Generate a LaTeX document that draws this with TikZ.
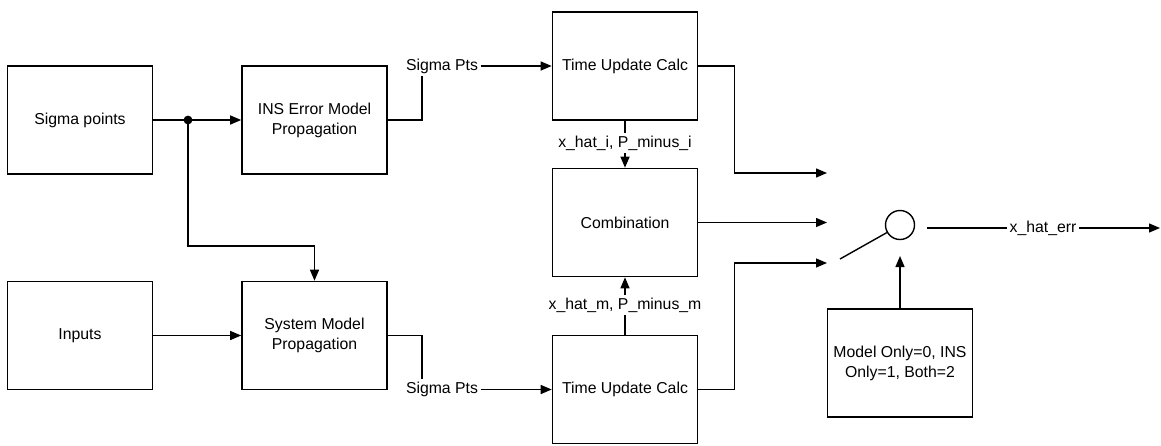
\documentclass[tikz,border=0pt]{standalone}
\usepackage{fontspec}
\setmainfont{Liberation Sans}
\usetikzlibrary{arrows.meta}

\tikzset{
    block/.style={draw, line width=0.8pt, minimum width=72.5pt, minimum height=54pt, align=center, inner sep=1pt},
    lbl/.style={inner sep=1pt},
    switch/.style={draw, circle, line width=0.7pt, minimum size=14.5pt, inner sep=0pt},
    every picture/.style={font=\fontsize{7.9pt}{10pt}\selectfont},
}

\begin{document}
\begin{tikzpicture}[x=0.5pt, y=-0.5pt, line width=0.7pt, >={Triangle[length=5.5pt, width=4.5pt]}]
                                \useasboundingbox (0, 0) rectangle (1161, 445);
                                \node[block] (sig) at (80, 120) {Sigma points};
                                \node[block] (ins) at (314.5, 120) {INS Error Model\\Propagation};
                                \node[block] (inp) at (80, 335.5) {Inputs};
                                \node[block] (sys) at (314.5, 335.5) {System Model\\Propagation};
                                \node[block] (tu1) at (625, 66) {Time Update Calc};
                                \node[block] (comb) at (625, 222.5) {Combination};
                                \node[block] (tu2) at (625, 389.5) {Time Update Calc};
                                \node[block] (mode) at (900, 363) {Model Only=0, INS\\Only=1, Both=2};
                                \node[switch] (sw) at (900, 225) {};
                                \node[lbl] (sp1) at (442, 66) {Sigma Pts};
                                \node[lbl] (sp2) at (442, 389.5) {Sigma Pts};
                                \node[lbl] (xi) at (625, 143) {x\_hat\_i, P\_minus\_i};
                                \node[lbl] (xm) at (625, 305) {x\_hat\_m, P\_minus\_m};
                                \node[lbl] (xerr) at (1043, 228) {x\_hat\_err};
                                \coordinate (jn) at (188, 120);
                                \coordinate (in1) at (827, 173);
                                \coordinate (in2) at (827, 222.5);
                                \coordinate (in3) at (827, 263);
                                \coordinate (swin) at (840, 259);
                                \coordinate (swout) at (927, 228);
                                \coordinate (swctl) at (900, 256);
                                \coordinate (out) at (1160, 228);
                                % left part
                                \draw[->] (sig.east) -- (ins.west);
                                \fill (jn) circle (2.2pt);
                                \draw[->] (jn) -- ++(0, 126) -| (sys.north);
                                \draw[->] (inp.east) -- (sys.west);
                                \draw (ins.east) -| ([xshift=-10pt]sp1.south);
                                \draw[->] (sp1.east) -- (tu1.west);
                                \draw (sys.east) -| ([xshift=-10pt]sp2.north);
                                \draw[->] (sp2.east) -- (tu2.west);
                                % middle
                                \draw (tu1.south) -- (xi.north);
                                \draw[->] (xi.south) -- (comb.north);
                                \draw (tu2.north) -- (xm.south);
                                \draw[->] (xm.north) -- (comb.south);
                                \draw[->] (tu1.east) -- ++(36, 0) |- (in1);
                                \draw[->] (comb.east) -- (in2);
                                \draw[->] (tu2.east) -- ++(36, 0) |- (in3);
                                % switch
                                \draw (swin) -- (sw.210);
                                \draw[->] (mode.north) -- (swctl);
                                \draw (swout) -- (xerr.west);
                                \draw[->] (xerr.east) -- (out);
                            \end{tikzpicture}
\end{document}
